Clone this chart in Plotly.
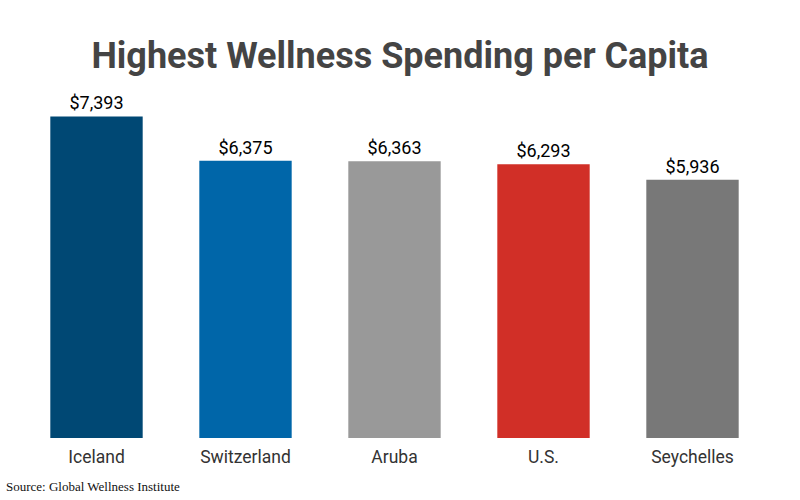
import plotly.graph_objects as go

countries = ["Iceland", "Switzerland", "Aruba", "U.S.", "Seychelles"]
spending = [7393, 6375, 6363, 6293, 5936]
labels = ["$7,393", "$6,375", "$6,363", "$6,293", "$5,936"]
colors = ["#004874", "#0066A9", "#999999", "#D12F27", "#787878"]

fig = go.Figure(go.Bar(
    x=countries, y=spending, marker_color=colors, marker_line_width=0,
    text=labels, textposition="outside", cliponaxis=False,
    textfont=dict(family="Roboto", size=18, color="#000000"),
    hoverinfo="skip",
))

fig.update_layout(
    width=800, height=500,
    margin=dict(l=22, r=33, t=90, b=62),
    paper_bgcolor="white", plot_bgcolor="white",
    bargap=0.38,
    showlegend=False,
    title=dict(text="<b>Highest Wellness Spending per Capita</b>", x=0.5, xanchor="center",
               y=0.89, yanchor="middle",
               font=dict(family="Roboto", size=36, color="#444444")),
    xaxis=dict(showgrid=False, showline=False, ticks="", ticklabelstandoff=6,
               tickfont=dict(family="Roboto", size=17.5, color="#333333")),
    yaxis=dict(range=[0, 8000], visible=False, showgrid=False),
    annotations=[dict(text="Source: Global Wellness Institute", xref="paper", yref="paper",
                      x=0, xanchor="left", xshift=-18, y=0, yanchor="bottom", yshift=-58,
                      showarrow=False,
                      font=dict(family="Liberation Serif", size=13, color="#111111"))],
)

fig.write_html("out.html")
